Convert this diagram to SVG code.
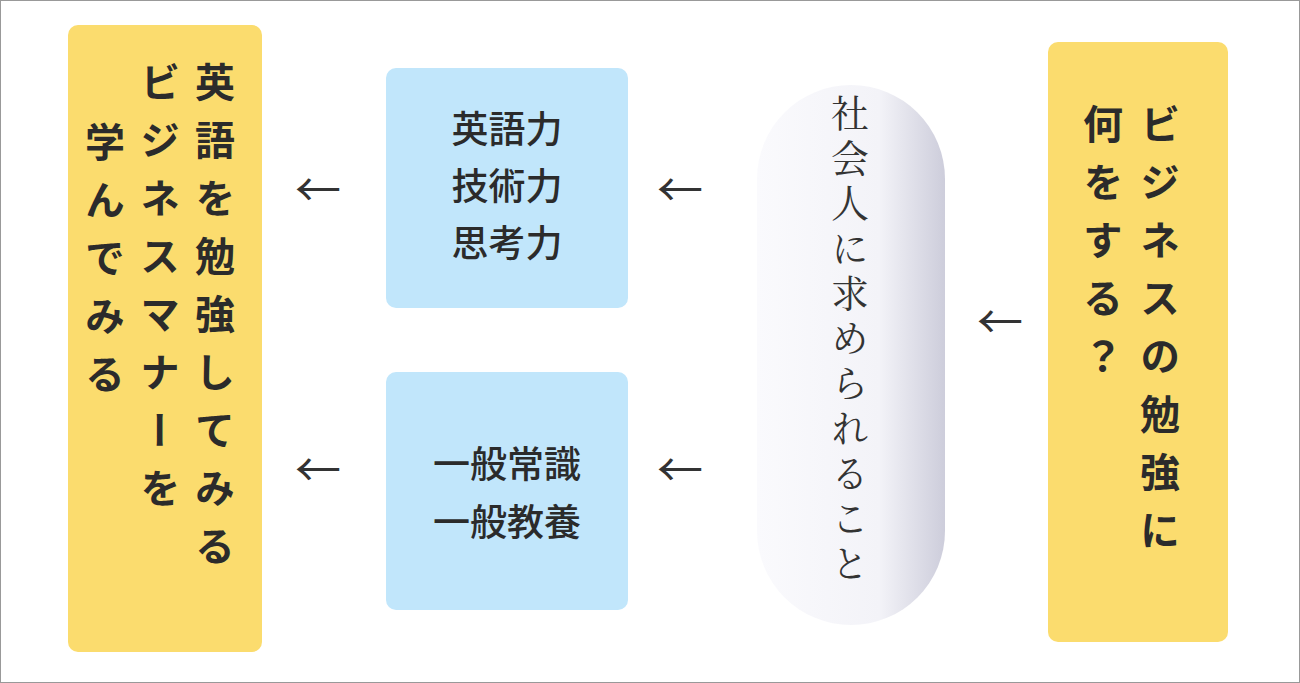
<svg xmlns="http://www.w3.org/2000/svg" width="1300" height="683" viewBox="0 0 1300 683">
<style>
.v{writing-mode:vertical-rl;font-family:"Noto Sans CJK JP",sans-serif;font-weight:700;font-size:40px;fill:#2b2b2b;letter-spacing:18px}
.vs{writing-mode:vertical-rl;font-family:"Noto Serif CJK JP","Noto Sans CJK JP",serif;font-size:38px;fill:#333;letter-spacing:7px}
.h{font-family:"Noto Sans CJK JP",sans-serif;font-size:37px;fill:#2b2b2b;text-anchor:middle;font-weight:500}
.ar{font-family:"Noto Sans CJK JP",sans-serif;font-size:46px;fill:#333;text-anchor:middle}
.y{fill:#fbdc6e}
.b{fill:#c1e6fb}
</style>
<defs>
<linearGradient id="pg" x1="0" y1="0" x2="1" y2="0">
<stop offset="0" stop-color="#fafafd"/><stop offset="0.65" stop-color="#f3f3f8"/><stop offset="1" stop-color="#cdcddb"/>
</linearGradient>
</defs>
<rect x="0.5" y="0.5" width="1299" height="682" fill="#fff" stroke="#999"/>
<g id="left"><rect class="y" x="68" y="25" width="194" height="627" rx="10"/>
<text class="v" x="215" y="62">英語を勉強してみる</text>
<text class="v" x="160" y="62">ビジネスマナーを</text>
<text class="v" x="105" y="122">学んでみる</text></g>
<g id="blue1"><rect class="b" x="386" y="68" width="242" height="240" rx="10"/>
<text class="h" x="507" y="143">英語力</text><text class="h" x="507" y="200">技術力</text><text class="h" x="507" y="257">思考力</text></g>
<g id="blue2"><rect class="b" x="386" y="372" width="242" height="238" rx="10"/>
<text class="h" x="507" y="478">一般常識</text><text class="h" x="507" y="536">一般教養</text></g>
<g id="pill"><rect x="757" y="85" width="188" height="540" rx="94" fill="url(#pg)"/>
<text class="vs" x="850" y="94">社会人に求められること</text></g>
<g id="right"><rect class="y" x="1048" y="42" width="180" height="600" rx="10"/>
<text class="v" x="1160" y="104">ビジネスの勉強に</text>
<text class="v" x="1103" y="104">何をする？</text></g>
<g id="connectors">
<text class="ar" x="318" y="206">←</text><text class="ar" x="318" y="486">←</text>
<text class="ar" x="680" y="206">←</text><text class="ar" x="680" y="486">←</text>
<text class="ar" x="1000" y="338">←</text>
</g>
</svg>
